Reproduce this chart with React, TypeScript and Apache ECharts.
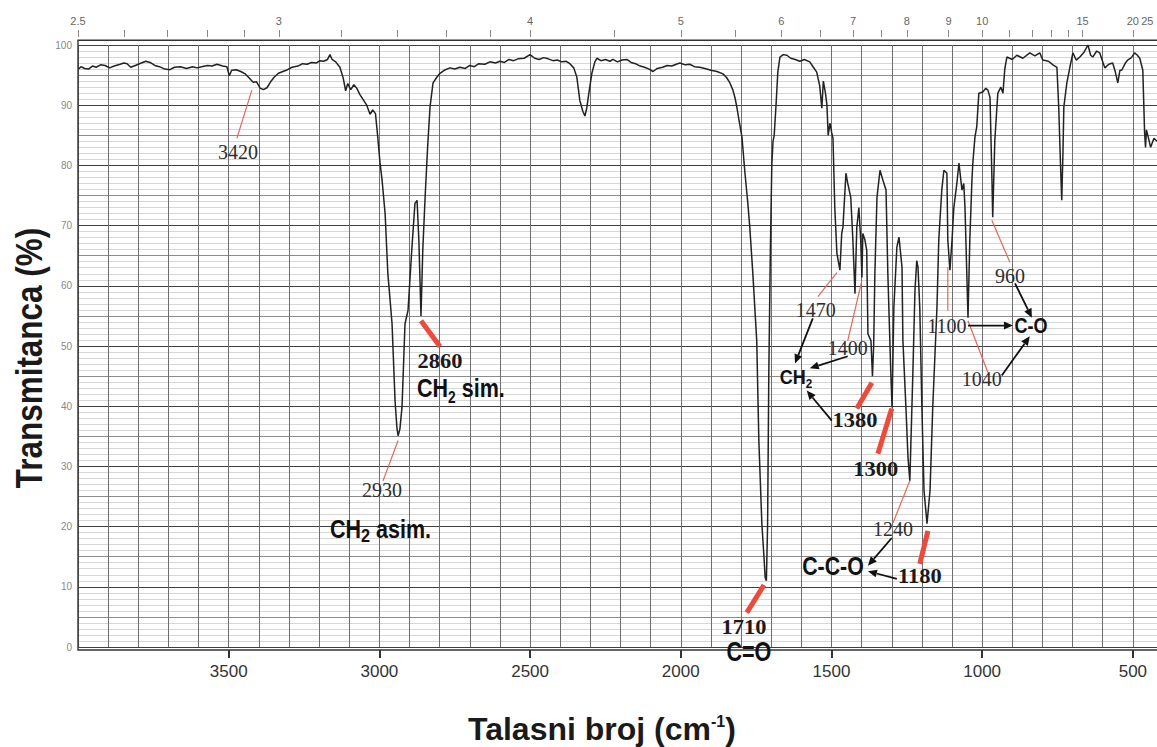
import React, { useEffect, useRef } from "react";
import * as echarts from "echarts";

// ---------------- data ----------------
// IR spectrum, [wavenumber cm-1, transmittance %]
const spectrumHigh: [number, number][] = [
  [3998, 96.0], [3990, 96.4], [3978, 96.1], [3965, 96.0], [3952, 96.5], [3940, 96.3], [3925, 96.7], [3910, 96.6],
  [3895, 96.2], [3880, 96.5], [3860, 96.8], [3848, 97.0], [3837, 96.9], [3825, 96.3], [3810, 96.6], [3790, 97.0],
  [3775, 97.3], [3761, 97.1], [3745, 96.6], [3730, 96.4], [3712, 96.0], [3695, 95.9], [3680, 96.3], [3660, 96.4],
  [3640, 96.1], [3620, 96.4], [3605, 96.2], [3590, 96.4], [3570, 96.6], [3555, 96.5], [3539, 96.8], [3520, 96.5],
  [3506, 96.4], [3498, 94.9], [3490, 95.8], [3475, 95.9], [3460, 95.6], [3445, 95.2], [3432, 94.5], [3419, 93.8],
  [3408, 93.9], [3395, 92.8], [3385, 92.6], [3373, 92.9], [3362, 93.8], [3350, 94.6], [3335, 95.3], [3320, 95.6],
  [3305, 95.9], [3290, 96.3], [3270, 96.5], [3255, 96.9], [3240, 96.8], [3225, 97.1], [3210, 97.0], [3197, 97.4],
  [3185, 97.3], [3172, 97.6], [3164, 98.4], [3157, 97.6], [3145, 97.2], [3131, 96.3], [3120, 94.5], [3112, 92.4],
  [3105, 93.6], [3095, 92.6], [3085, 93.4], [3075, 92.8], [3065, 91.8], [3055, 91.0], [3042, 90.0], [3031, 88.5],
  [3022, 89.2], [3013, 88.6], [3006, 85.0], [2998, 80.5], [2991, 77.5], [2981, 72.0], [2972, 62.1], [2958, 53.7],
  [2948, 40.9], [2942, 36.5], [2938, 35.1], [2932, 36.2], [2925, 39.8], [2915, 53.7], [2905, 55.9], [2892, 66.4],
  [2882, 73.7], [2875, 74.2], [2869, 67.6], [2862, 55.0], [2856, 66.0], [2848, 75.0], [2840, 83.0], [2832, 89.7],
  [2822, 93.7], [2810, 94.6], [2799, 95.3], [2785, 95.8], [2766, 96.2], [2750, 96.0], [2733, 96.3], [2715, 96.1],
  [2700, 96.6], [2685, 96.4], [2670, 96.9], [2650, 96.8], [2633, 97.2], [2615, 97.0], [2600, 97.3], [2585, 97.1],
  [2570, 97.6], [2555, 97.4], [2540, 97.7], [2520, 97.8], [2500, 98.4], [2485, 97.8], [2470, 97.6], [2455, 97.9],
  [2440, 97.7], [2424, 97.4], [2410, 97.5], [2395, 97.2], [2380, 97.3], [2368, 96.9], [2355, 96.2], [2345, 94.7],
  [2335, 90.8], [2325, 89.0], [2318, 88.2], [2312, 89.5], [2305, 92.0], [2295, 95.3], [2285, 97.2], [2278, 97.8],
  [2265, 97.4], [2250, 97.6], [2235, 97.3], [2225, 97.6], [2210, 97.2], [2195, 97.5], [2179, 97.6], [2165, 97.1],
  [2150, 96.9], [2135, 96.5], [2120, 96.3], [2105, 96.0], [2092, 95.6], [2078, 96.1], [2060, 96.3], [2045, 96.6],
  [2030, 96.5], [2015, 96.8], [2003, 97.0],
];

const spectrumFingerprint: [number, number][] = [
  [1985, 96.7], [1970, 96.8], [1955, 96.4], [1937, 96.3], [1920, 96.1], [1900, 95.8], [1880, 95.6], [1860, 95.2],
  [1848, 94.6], [1838, 93.8], [1827, 92.5], [1820, 91.2], [1814, 89.7], [1805, 87.0], [1797, 84.7], [1787, 78.7],
  [1778, 74.0], [1771, 69.7], [1761, 62.1], [1748, 50.9], [1741, 34.3], [1731, 20.5], [1724, 15.0], [1720, 11.5],
  [1716, 11.0], [1712, 20.0], [1708, 45.0], [1703, 65.0], [1698, 80.0], [1694, 84.0], [1690, 85.0], [1684, 90.0],
  [1678, 95.5], [1671, 98.0], [1660, 98.4], [1648, 98.3], [1635, 97.8], [1620, 97.6], [1605, 97.3], [1590, 97.6],
  [1572, 97.2], [1560, 96.3], [1549, 95.5], [1539, 93.2], [1532, 89.5], [1527, 94.0], [1520, 92.0], [1515, 90.0],
  [1511, 85.0], [1505, 87.0], [1499, 85.4], [1495, 84.5], [1489, 73.0], [1482, 65.4], [1472, 62.6], [1466, 68.7],
  [1462, 69.7], [1452, 78.7], [1446, 77.0], [1436, 74.7], [1429, 67.6], [1422, 58.7], [1416, 69.7], [1409, 73.0],
  [1403, 67.6], [1399, 61.4], [1396, 68.7], [1389, 67.6], [1383, 65.9], [1379, 52.0], [1369, 50.9], [1364, 45.0],
  [1360, 50.0], [1356, 62.1], [1349, 74.7], [1339, 79.2], [1329, 77.5], [1319, 75.9], [1313, 62.1], [1303, 45.4],
  [1299, 39.8], [1293, 56.4], [1283, 66.4], [1276, 68.1], [1266, 63.1], [1263, 50.9], [1253, 39.8], [1246, 31.4],
  [1240, 27.6], [1230, 45.4], [1223, 59.2], [1217, 64.2], [1213, 63.1], [1207, 56.4], [1200, 39.8], [1193, 26.0],
  [1183, 20.5], [1173, 26.0], [1164, 39.8], [1150, 56.4], [1144, 67.6], [1134, 75.9], [1127, 79.2], [1117, 78.7],
  [1114, 67.6], [1107, 62.6], [1100, 67.6], [1094, 73.0], [1084, 77.0], [1077, 80.4], [1067, 75.9], [1061, 77.0],
  [1057, 73.0], [1051, 62.1], [1047, 54.7], [1041, 67.6], [1034, 77.5], [1031, 80.4], [1024, 84.7], [1018, 86.4],
  [1011, 92.0], [998, 92.2], [988, 92.8], [981, 92.5], [974, 91.3], [968, 78.7], [965, 71.4], [958, 84.2],
  [951, 89.7], [948, 92.0], [938, 93.0], [931, 92.0], [925, 96.0], [918, 98.0], [900, 97.6], [885, 98.3],
  [865, 97.8], [842, 98.7], [825, 98.2], [809, 98.7], [799, 97.5], [780, 97.3], [765, 96.7], [752, 96.3],
  [746, 89.7], [740, 80.0], [736, 74.2], [732, 82.0], [729, 89.7], [719, 93.7], [709, 96.3], [699, 98.7],
  [688, 97.5], [676, 98.0], [662, 98.8], [649, 100.0], [640, 98.3], [633, 98.0], [620, 99.0], [610, 98.7],
  [600, 97.2], [593, 96.2], [580, 96.8], [567, 97.0], [558, 95.5], [550, 93.7], [543, 95.8], [537, 95.8],
  [525, 97.0], [517, 97.5], [505, 97.9], [494, 98.7], [485, 98.3], [477, 97.8], [467, 95.8], [461, 85.4],
  [458, 83.0], [455, 85.9], [448, 84.5], [441, 83.0], [430, 84.5], [420, 84.0],
];

// bottom axis (wavenumber) labelled ticks
const wavenumberTicks = [3500, 3000, 2500, 2000, 1500, 1000, 500];
// top axis (wavelength, micrometres)
const micronLabels = [2.5, 3, 4, 5, 6, 7, 8, 9, 10, 15, 20, 25];
const micronTicks = [2.5, 2.6, 2.7, 2.8, 2.9, 3, 3.2, 3.4, 3.6, 3.8, 4, 4.5, 5, 5.5, 6, 6.5, 7, 7.5, 8, 9, 10, 11, 12, 13, 14, 15, 20, 25];

// peak number annotations [wavenumber, T]
const peakNumbers: { label: string; at: [number, number]; strong: boolean }[] = [
  { label: "3420", at: [3469, 82.2], strong: false },
  { label: "2930", at: [2991, 26.0], strong: false },
  { label: "2860", at: [2799, 47.4], strong: true },
  { label: "1710", at: [1790, 3.3], strong: true },
  { label: "1470", at: [1552, 55.9], strong: false },
  { label: "1400", at: [1446, 49.6], strong: false },
  { label: "1380", at: [1422, 37.6], strong: true },
  { label: "1300", at: [1353, 29.5], strong: true },
  { label: "1240", at: [1296, 19.6], strong: false },
  { label: "1180", at: [1207, 11.8], strong: true },
  { label: "1100", at: [1117, 53.4], strong: false },
  { label: "1040", at: [1001, 44.6], strong: false },
  { label: "960", at: [908, 61.7], strong: false },
];

// functional group names (rich text)
const groupNames: { text: string; at: [number, number]; align: string; size: number; sub: number; squeeze: number }[] = [
  { text: "{m|CH}{s|2}{m| asim.}", at: [3164, 19.6], align: "left", size: 25, sub: 19, squeeze: 0.86 },
  { text: "{m|CH}{s|2}{m| sim.}", at: [2875, 42.9], align: "left", size: 25, sub: 16, squeeze: 0.86 },
  { text: "{m|C=O}", at: [1774, -0.7], align: "center", size: 27, sub: 16, squeeze: 0.8 },
  { text: "{m|CH}{s|2}", at: [1618, 44.8], align: "center", size: 20, sub: 13, squeeze: 0.9 },
  { text: "{m|C-C-O}", at: [1495, 13.5], align: "center", size: 26, sub: 16, squeeze: 0.82 },
  { text: "{m|C-O}", at: [838, 53.4], align: "center", size: 22, sub: 14, squeeze: 0.82 },
];

// red leader lines from peaks to their numbers
const leaders: { from: [number, number]; to: [number, number]; thick: boolean }[] = [
  { from: [3423, 92.5], to: [3473, 84.5], thick: false },
  { from: [2938, 34.3], to: [2988, 27.6], thick: false },
  { from: [2862, 54.2], to: [2799, 49.9], thick: true },
  { from: [1724, 10.3], to: [1781, 5.7], thick: true },
  { from: [1482, 62.2], to: [1545, 58.2], thick: false },
  { from: [1399, 60.9], to: [1446, 50.9], thick: false },
  { from: [1366, 43.9], to: [1416, 39.6], thick: true },
  { from: [1300, 39.6], to: [1346, 32.1], thick: true },
  { from: [1240, 27.6], to: [1296, 20.6], thick: false },
  { from: [1180, 19.3], to: [1207, 13.8], thick: true },
  { from: [1114, 63.1], to: [1114, 55.9], thick: false },
  { from: [968, 70.9], to: [908, 63.9], thick: false },
  { from: [1047, 54.2], to: [981, 45.6], thick: false },
];

// black arrows from numbers to group names
const arrows: { from: [number, number]; to: [number, number] }[] = [
  { from: [1562, 54.6], to: [1621, 47.1] },
  { from: [1446, 48.3], to: [1572, 46.3] },
  { from: [1499, 37.6], to: [1582, 42.6] },
  { from: [1300, 18.1], to: [1379, 13.5] },
  { from: [1283, 11.3], to: [1379, 12.6] },
  { from: [1047, 53.4], to: [898, 53.4] },
  { from: [891, 60.4], to: [835, 54.7] },
  { from: [935, 45.1], to: [842, 51.6] },
];

// ---------------- styling ----------------
const SANS = "'Liberation Sans', Arial, Helvetica, sans-serif";
const SERIF = "'Liberation Serif', 'Times New Roman', serif";
const VISIBLE_EDGE_WN = 452; // rightmost wavenumber whose top label still fits in the picture

const micronLabelPos = micronLabels.map((u) => Math.max(10000 / u, VISIBLE_EDGE_WN));
const micronLabelFor = (v: number) => {
  let best = 0;
  micronLabelPos.forEach((p, i) => {
    if (Math.abs(p - v) < Math.abs(micronLabelPos[best] - v)) best = i;
  });
  return String(micronLabels[best]);
};

export default function App() {
  const ref = useRef<HTMLDivElement>(null);

  useEffect(() => {
    if (!ref.current) return;
    const chart = echarts.init(ref.current, null, { renderer: "svg" });

    const spectrum = [...spectrumHigh, ...spectrumFingerprint];

    const commonX = { type: "value", min: 400, max: 4000, inverse: true, gridIndex: 0 } as any;

    chart.setOption({
      animation: false,
      backgroundColor: "#ffffff",
      grid: { left: 78, top: 45, width: 1085, height: 602, show: false, containLabel: false, outerBoundsMode: "none" },
      xAxis: [
        {
          ...commonX,
          position: "bottom",
          interval: 100,
          axisLine: { show: false },
          axisTick: { show: false },
          axisLabel: { show: false },
          splitLine: { show: true, lineStyle: { color: "#6e6e6e", width: 1 } },
        },
        {
          ...commonX,
          position: "bottom",
          offset: 3,
          axisLine: { show: false },
          axisTick: { show: true, customValues: wavenumberTicks, length: 8, lineStyle: { color: "#333", width: 2 } },
          axisLabel: {
            show: true,
            customValues: wavenumberTicks,
            formatter: (v: number) => String(Math.round(v)),
            margin: 13,
            fontSize: 17,
            color: "#333",
            fontFamily: SANS,
          },
          splitLine: { show: false },
        },
        {
          ...commonX,
          position: "top",
          offset: 8,
          axisLine: { show: false },
          axisTick: { show: true, customValues: micronTicks.map((u) => 10000 / u), length: 7, lineStyle: { color: "#888", width: 1 } },
          axisLabel: {
            show: true,
            customValues: micronLabelPos,
            formatter: (v: number) => micronLabelFor(v),
            margin: 11,
            fontSize: 11,
            color: "#666",
            fontFamily: SANS,
          },
          splitLine: { show: false },
        },
      ],
      yAxis: [
        {
          type: "value",
          min: 0,
          max: 100,
          interval: 5,
          axisLine: { show: false },
          axisTick: { show: false },
          axisLabel: {
            formatter: (v: number) => (v % 10 === 0 ? String(v) : ""),
            fontSize: 10,
            color: "#888",
            margin: 6,
            fontFamily: SANS,
          },
          splitLine: { show: true, lineStyle: { color: ["#404040", "#8c8c8c"], width: 1.1 } },
          minorTick: { show: false, splitNumber: 5 },
          minorSplitLine: { show: true, lineStyle: { color: "#c4c4c4", width: 0.7 } },
        },
      ],
      series: [
        {
          type: "line",
          xAxisIndex: 0,
          yAxisIndex: 0,
          data: spectrum,
          showSymbol: false,
          symbol: "none",
          lineStyle: { color: "#222", width: 1.5 },
          z: 5,
          silent: true,
        },
      ],
    } as any);

    const px = (p: [number, number]) => chart.convertToPixel({ seriesIndex: 0 }, p) as number[];

    const els: any[] = [];

    // frame
    const tl = px([4000, 100.8]);
    const br = px([400, -0.5]);
    els.push({
      type: "rect",
      shape: { x: tl[0], y: tl[1], width: br[0] - tl[0], height: br[1] - tl[1] },
      style: { fill: "none", stroke: "#333", lineWidth: 1.4 },
      z: 3,
      silent: true,
    });

    // red leader lines
    leaders.forEach((l) => {
      const a = px(l.from);
      const b = px(l.to);
      els.push({
        type: "line",
        shape: { x1: a[0], y1: a[1], x2: b[0], y2: b[1] },
        style: { stroke: l.thick ? "#ec4a3c" : "#e0695c", lineWidth: l.thick ? 5 : 1.2, lineCap: "butt" },
        z: 20,
        silent: true,
      });
    });

    // black arrows
    arrows.forEach((ar) => {
      const a = px(ar.from);
      const b = px(ar.to);
      const dx = b[0] - a[0];
      const dy = b[1] - a[1];
      const len = Math.hypot(dx, dy) || 1;
      const ux = dx / len;
      const uy = dy / len;
      const L = 9;
      const W = 4;
      const bx = b[0] - ux * L;
      const by = b[1] - uy * L;
      els.push({
        type: "line",
        shape: { x1: a[0], y1: a[1], x2: bx, y2: by },
        style: { stroke: "#111", lineWidth: 1.8 },
        z: 21,
        silent: true,
      });
      els.push({
        type: "polygon",
        shape: { points: [[b[0], b[1]], [bx - uy * W, by + ux * W], [bx + uy * W, by - ux * W]] },
        style: { fill: "#111", stroke: "none" },
        z: 21,
        silent: true,
      });
    });

    // peak numbers
    peakNumbers.forEach((p) => {
      const c = px(p.at);
      els.push({
        type: "text",
        x: c[0],
        y: c[1],
        scaleX: p.strong ? 1.07 : 1,
        z: 30,
        silent: true,
        style: {
          text: p.label,
          fill: p.strong ? "#1a1a1a" : "#2e2e2e",
          fontSize: p.strong ? 21 : 20,
          fontWeight: p.strong ? "bold" : "normal",
          fontFamily: SERIF,
          align: "center",
          verticalAlign: "middle",
          textAlign: "center",
          textVerticalAlign: "middle",
        },
      });
    });

    // group names
    groupNames.forEach((g) => {
      const c = px(g.at);
      const lh = Math.round(g.size * 1.3);
      els.push({
        type: "text",
        x: c[0],
        y: c[1],
        scaleX: g.squeeze,
        z: 30,
        silent: true,
        style: {
          text: g.text,
          fill: "#111",
          fontSize: g.size,
          fontWeight: "bold",
          fontFamily: SANS,
          align: g.align,
          verticalAlign: "middle",
          textAlign: g.align,
          textVerticalAlign: "middle",
          rich: {
            m: { fontSize: g.size, fontWeight: "bold", fontFamily: SANS, fill: "#111", lineHeight: lh, verticalAlign: "middle" },
            s: { fontSize: g.sub, fontWeight: "bold", fontFamily: SANS, fill: "#111", lineHeight: g.sub, verticalAlign: "bottom" },
          },
        },
      });
    });

    // axis titles
    els.push({
      type: "text",
      x: 29,
      y: 358,
      rotation: Math.PI / 2,
      scaleX: 0.85,
      z: 30,
      silent: true,
      style: {
        text: "Transmitanca (%)",
        fill: "#1a1a1a",
        fontSize: 37,
        fontWeight: "bold",
        fontFamily: SANS,
        align: "center",
        verticalAlign: "middle",
        textAlign: "center",
        textVerticalAlign: "middle",
      },
    });
    els.push({
      type: "text",
      x: 468,
      y: 729,
      z: 30,
      silent: true,
      style: {
        text: "{m|Talasni broj (cm}{s|-1}{m|)}",
        fill: "#1a1a1a",
        fontSize: 32,
        fontWeight: "bold",
        fontFamily: SANS,
        align: "left",
        verticalAlign: "middle",
        textAlign: "left",
        textVerticalAlign: "middle",
        rich: {
          m: { fontSize: 32, fontWeight: "bold", fontFamily: SANS, fill: "#1a1a1a", lineHeight: 32, verticalAlign: "middle" },
          s: { fontSize: 16, fontWeight: "bold", fontFamily: SANS, fill: "#1a1a1a", lineHeight: 16, verticalAlign: "top" },
        },
      },
    });

    chart.setOption({ graphic: { elements: els } } as any);

    return () => chart.dispose();
  }, []);

  return (
    <div
      ref={ref}
      style={{ position: "fixed", left: 0, top: 0, width: 1157, height: 747, background: "#fff" }}
    />
  );
}
